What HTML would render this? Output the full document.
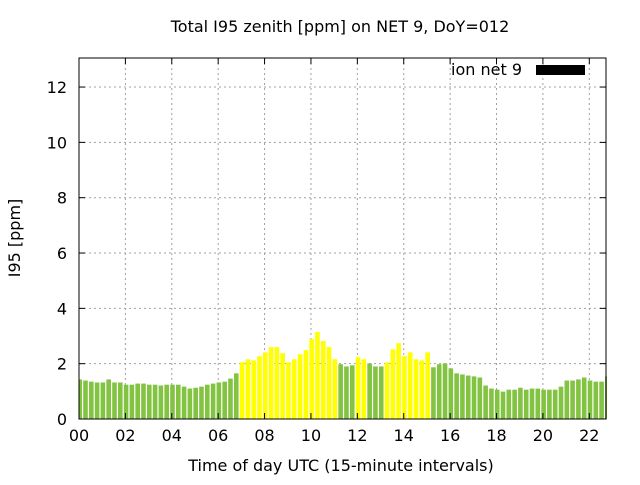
<!DOCTYPE html>
<html><head><meta charset="utf-8"><style>
body{margin:0;background:#fff;}
svg text{font-family:"DejaVu Sans","Liberation Sans",sans-serif;}
</style></head><body>
<svg id="chart" width="640" height="480" xmlns="http://www.w3.org/2000/svg">
<text x="340" y="32" text-anchor="middle" font-size="16">Total I95 zenith [ppm] on NET 9, DoY=012</text>
<text transform="translate(20,238) rotate(-90)" text-anchor="middle" font-size="16">I95 [ppm]</text>
<text x="341" y="471" text-anchor="middle" font-size="16">Time of day UTC (15-minute intervals)</text>
<g id="grid"></g><g id="bars"></g><g id="axes"></g>
<text x="522" y="75" text-anchor="end" font-size="16">ion net 9</text>
<rect x="536" y="65" width="49" height="10" fill="#000"/>
</svg>
<script>
const values=[1.43,1.39,1.35,1.32,1.32,1.43,1.32,1.32,1.24,1.24,1.28,1.28,1.24,1.24,1.21,1.24,1.24,1.24,1.17,1.10,1.13,1.17,1.24,1.28,1.32,1.35,1.46,1.65,2.05,2.16,2.12,
2.27,2.41,2.60,2.60,2.38,2.05,2.16,2.34,2.49,2.89,3.15,2.82,2.60,2.16,1.98,1.90,1.94,2.23,2.16,2.01,1.90,1.90,2.05,2.52,2.74,2.27,2.41,2.16,2.12,2.41,
1.87,1.98,2.01,1.83,1.65,1.61,1.57,1.54,1.50,1.21,1.10,1.06,0.99,1.06,1.06,1.13,1.06,1.10,1.10,1.06,1.06,1.06,1.17,1.39,1.39,1.43,1.50,1.39,1.35,1.35,1.54];
const highlight=[];for(let i=0;i<values.length;i++)highlight.push(0);
const yellowIdx=[28,29,30,31,32,33,34,35,36,37,38,39,40,41,42,43,44,48,49,53,54,55,56,57,58,59,60];
const xTicks=["00","02","04","06","08","10","12","14","16","18","20","22"];
const yTicks=[0,2,4,6,8,10,12];
yellowIdx.forEach(i=>highlight[i]=1);
const L=79,R=606,T=58,B=419,XMAX=22.72,YMAX=13.05;
const sx=h=>L+h/XMAX*(R-L), sy=v=>B-v/YMAX*(B-T);
const NS="http://www.w3.org/2000/svg";
function mk(t,a,p){const e=document.createElementNS(NS,t);for(const k in a)e.setAttribute(k,a[k]);p.appendChild(e);return e;}
const grid=document.getElementById('grid'),bars=document.getElementById('bars'),axes=document.getElementById('axes');
xTicks.forEach(t=>{const x=sx(+t);
 const g=mk('line',{x1:x,x2:x,y1:T,y2:B,stroke:'#a0a0a0','stroke-dasharray':'2,3'},grid);
 
 const tx=mk('text',{x:x,y:B+22,'text-anchor':'middle','font-size':16},axes);tx.textContent=t;
 
 mk('line',{x1:x,x2:x,y1:B,y2:B-6,stroke:'#000'},axes);mk('line',{x1:x,x2:x,y1:T,y2:T+6,stroke:'#000'},axes);});
yTicks.forEach(v=>{const y=sy(v);
 if(v>0){const g=mk('line',{x1:L,x2:R,y1:y,y2:y,stroke:'#a0a0a0','stroke-dasharray':'2,3'},grid);
 }
 const tx=mk('text',{x:L-12,y:y+6,'text-anchor':'end','font-size':16},axes);tx.textContent=v;
 
 mk('line',{x1:L,x2:L+6,y1:y,y2:y,stroke:'#000'},axes);mk('line',{x1:R,x2:R-6,y1:y,y2:y,stroke:'#000'},axes);});
mk('clipPath',{id:'clip'},bars);
const cr=mk('rect',{x:L,y:T,width:R-L+1,height:B-T},document.getElementById('clip'));
bars.setAttribute('clip-path','url(#clip)');
values.forEach((v,i)=>{const xc=sx(i*0.25)+0.7,w=4.6;
 const r=mk('rect',{x:xc-w/2,y:sy(v),width:w,height:B-sy(v),fill:highlight[i]?'#ffff00':'#82c341'},bars);
 });
const f=mk('rect',{x:L,y:T,width:R-L,height:B-T,fill:'none',stroke:'#000','stroke-width':1},axes);

</script>
</body></html>
